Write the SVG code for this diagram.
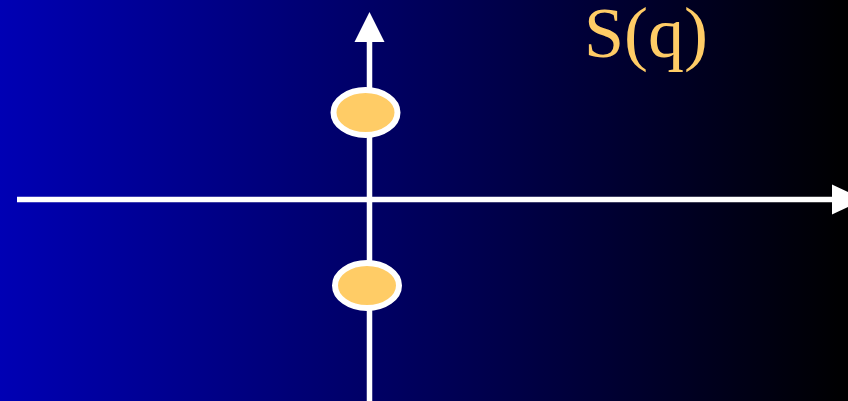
<svg xmlns="http://www.w3.org/2000/svg" width="848" height="401" viewBox="0 0 848 401">
  <defs>
    <linearGradient id="bg" x1="0" y1="0" x2="1" y2="0">
      <stop offset="0" stop-color="#0000B4"/>
      <stop offset="1" stop-color="#000000"/>
    </linearGradient>
    <style>
      .axis { stroke: #FFFFFF; stroke-width: 5.5; fill: none; }
      .head { fill: #FFFFFF; }
      .dot { fill: #FFCC66; stroke: #FFFFFF; stroke-width: 6; }
      .label { font-family: "Liberation Serif", "Times New Roman", serif; font-size: 72px; fill: #FFCC66; }
    </style>
  </defs>
  <rect x="0" y="0" width="848" height="401" fill="url(#bg)"/>
  <g id="connectors">
    <line class="axis" x1="369.5" y1="401" x2="369.5" y2="40"/>
    <polygon class="head" points="369.5,12 354.5,42 384.5,42"/>
    <line class="axis" x1="17" y1="199.5" x2="834" y2="199.5"/>
    <polygon class="head" points="832,184.5 832,214.5 864,199.5"/>
  </g>
  <g id="node-top">
    <ellipse class="dot" cx="365.5" cy="112.5" rx="32" ry="22.5"/>
  </g>
  <g id="node-bottom">
    <ellipse class="dot" cx="367" cy="285.5" rx="32" ry="22.5"/>
  </g>
  <g id="label">
    <text class="label" x="584" y="57">S(q)</text>
  </g>
</svg>
